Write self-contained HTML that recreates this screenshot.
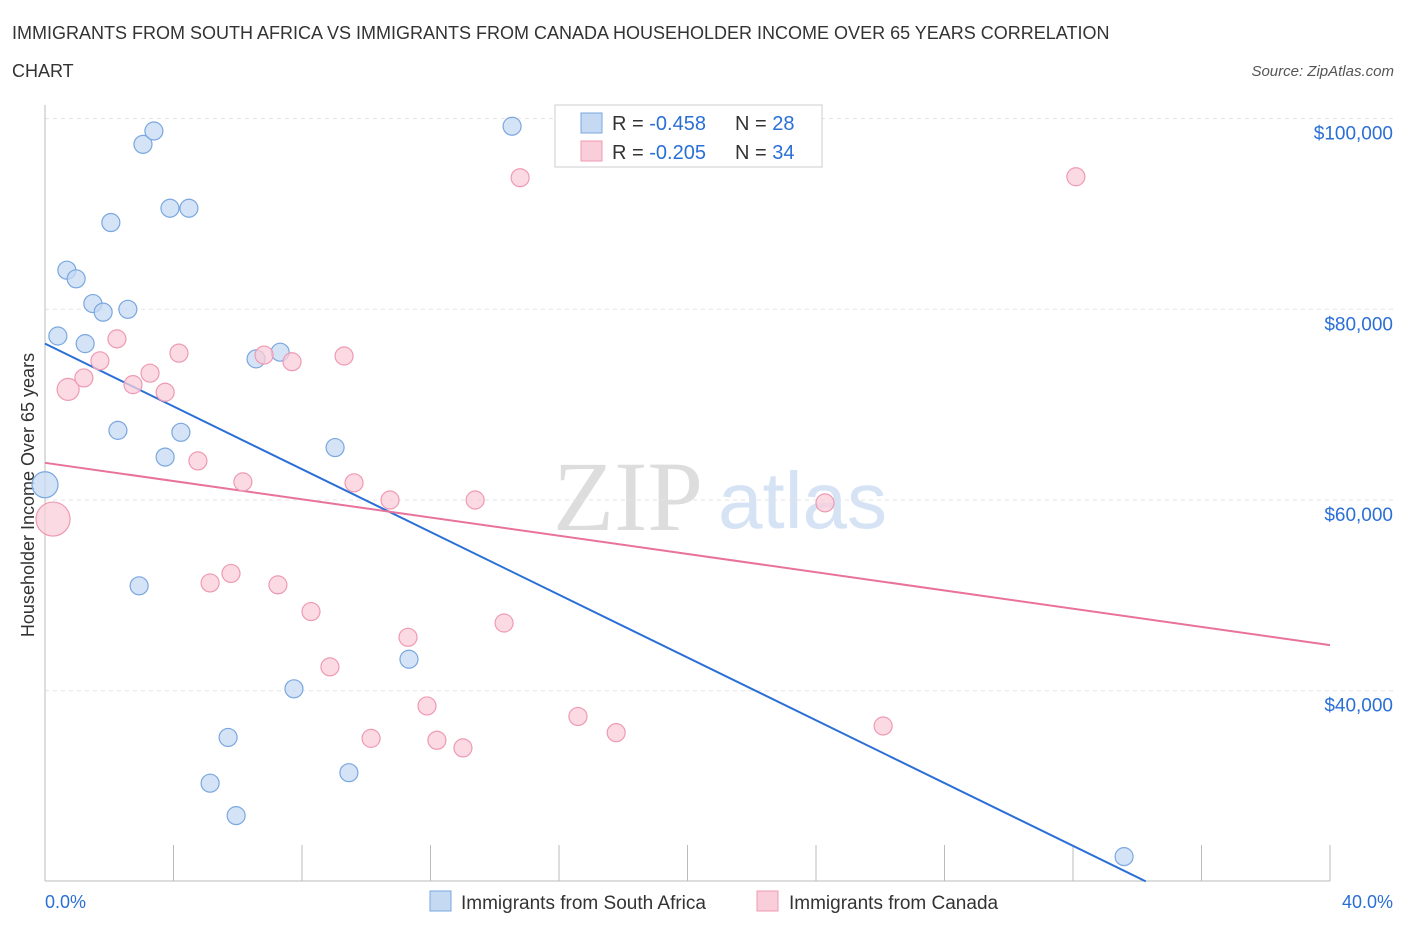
<!DOCTYPE html>
<html><head><meta charset="utf-8"><style>
body{margin:0;background:#fff;font-family:"Liberation Sans",sans-serif}
svg text{font-family:"Liberation Sans",sans-serif}
</style></head><body>
<svg id="chart" width="1406" height="930">
<text x="12" y="39" font-size="18" fill="#333">IMMIGRANTS FROM SOUTH AFRICA VS IMMIGRANTS FROM CANADA HOUSEHOLDER INCOME OVER 65 YEARS CORRELATION</text>
<text x="12" y="77" font-size="18" fill="#333">CHART</text>
<text x="1394" y="76" font-size="15" fill="#555" font-style="italic" text-anchor="end">Source: ZipAtlas.com</text>
<text x="553" y="530" font-size="100" fill="#ddd" font-family="Liberation Serif" style="font-family:'Liberation Serif',serif">ZIP</text>
<text x="718" y="528" font-size="80" fill="#d6e3f5">atlas</text>
<text transform="translate(34,495) rotate(-90)" font-size="18" fill="#333" text-anchor="middle">Householder Income Over 65 years</text>
<g id="grid"></g><g id="ticks"></g><g id="lines"></g><g id="pts"></g>
<g>
<rect x="555" y="105" width="267" height="62" fill="#fff" stroke="#ccc"/>
<rect x="581" y="113" width="21" height="20" fill="#c5d9f3" stroke="#7aa7e0"/>
<rect x="581" y="141" width="21" height="20" fill="#f9cdd9" stroke="#ee9ab3"/>
<text x="612" y="130" font-size="20" fill="#333">R = <tspan fill="#2a6fd6">-0.458</tspan></text>
<text x="735" y="130" font-size="20" fill="#333">N = <tspan fill="#2a6fd6">28</tspan></text>
<text x="612" y="159" font-size="20" fill="#333">R = <tspan fill="#2a6fd6">-0.205</tspan></text>
<text x="735" y="159" font-size="20" fill="#333">N = <tspan fill="#2a6fd6">34</tspan></text>
</g>
<text x="45" y="908" font-size="18" fill="#2a6fd6">0.0%</text>
<text x="1393" y="908" font-size="18" fill="#2a6fd6" text-anchor="end">40.0%</text>
<g>
<rect x="430" y="891" width="21" height="20" fill="#c5d9f3" stroke="#7aa7e0"/>
<text x="461" y="909" font-size="19" fill="#333">Immigrants from South Africa</text>
<rect x="757" y="891" width="21" height="20" fill="#f9cdd9" stroke="#ee9ab3"/>
<text x="789" y="909" font-size="19" fill="#333">Immigrants from Canada</text>
</g>
</svg>
<script>
const yTicks=[40,60,80,100];
const yTickLabels=["$40,000","$60,000","$80,000","$100,000"];
const xTicks=[0,4,8,12,16,20,24,28,32,36,40];
const blueX=[0.0,0.40,0.68,0.97,1.25,1.49,1.81,2.05,2.27,2.58,2.93,3.05,3.39,3.74,3.89,4.23,4.48,5.14,5.70,5.95,6.57,7.32,7.75,9.03,9.46,11.33,14.54,33.59];
const blueY=[61.6,77.2,84.1,83.2,76.4,80.6,79.7,89.1,67.3,80.0,51.0,97.3,98.7,64.5,90.6,67.1,90.6,30.3,35.1,26.9,74.8,75.5,40.2,65.5,31.4,43.3,99.2,22.6];
const blueR=[13,9,9,9,9,9,9,9,9,9,9,9,9,9,9,9,9,9,9,9,9,9,9,9,9,9,9,9];
const pinkX=[0.25,0.72,1.21,1.71,2.24,2.74,3.27,3.74,4.17,4.76,5.14,5.79,6.16,6.82,7.25,7.69,8.28,8.87,9.31,9.62,10.15,10.74,11.30,11.89,12.20,13.01,13.39,14.29,14.79,16.59,17.78,24.28,26.09,32.09];
const pinkY=[58.0,71.6,72.8,74.6,76.9,72.1,73.3,71.3,75.4,64.1,51.3,52.3,61.9,75.2,51.1,74.5,48.3,42.5,75.1,61.8,35.0,60.0,45.6,38.4,34.8,34.0,60.0,47.1,93.8,37.3,35.6,59.7,36.3,93.9];
const pinkR=[17,11,9,9,9,9,9,9,9,9,9,9,9,9,9,9,9,9,9,9,9,9,9,9,9,9,9,9,9,9,9,9,9,9];
const blueTrend=[76.4,-1.646];
const pinkTrend=[63.9,-0.478];
const NS="http://www.w3.org/2000/svg";
const X=v=>45+v/40*1285;
const Y=v=>500-(v-60)*190.7/20;
function mk(t,a,p){const e=document.createElementNS(NS,t);for(const k in a)e.setAttribute(k,a[k]);document.getElementById(p).appendChild(e);return e;}
yTicks.forEach((t,i)=>{
 const l=mk('line',{x1:45,x2:1393,y1:Y(t),y2:Y(t),stroke:'#e3e3e3','stroke-dasharray':'4,4'},'grid');
 
 
 const tx=mk('text',{x:1393,y:Y(t)+21,'font-size':19,fill:'#2a6fd6','text-anchor':'end'},'grid');
 tx.textContent=yTickLabels[i];
 
 
});
const ax=mk('line',{x1:45,x2:45,y1:105,y2:881,stroke:'#bbb'},'ticks');


const bx=mk('line',{x1:45,x2:1330,y1:881,y2:881,stroke:'#bbb'},'ticks');


xTicks.forEach(t=>{
 const l=mk('line',{x1:X(t),x2:X(t),y1:845,y2:881,stroke:'#bbb'},'ticks');
 
 
});
function trend(tr,color,name){
 const x0=0;let x1=40;
 const v1=tr[0]+tr[1]*40;
 if(v1<20)x1=(20-tr[0])/tr[1];
 const l=mk('line',{x1:X(x0),y1:Y(tr[0]),x2:X(x1),y2:Y(tr[0]+tr[1]*x1),stroke:color,'stroke-width':2},'lines');
 
 
}
function pts(xs,ys,rs,fill,stroke,name){
 xs.forEach((x,i)=>{
  const c=mk('circle',{cx:X(x),cy:Y(ys[i]),r:rs[i],fill:fill,stroke:stroke,'stroke-width':1.2,'fill-opacity':0.75},'pts');
  
  
 });
}
pts(blueX,blueY,blueR,'#c5d9f3','#7aa7e0','south-africa-point');
pts(pinkX,pinkY,pinkR,'#f9cdd9','#ee9ab3','canada-point');
trend(blueTrend,'#2a6fd6','south-africa-trendline');
trend(pinkTrend,'#e8729a','canada-trendline');
</script>
</body></html>
